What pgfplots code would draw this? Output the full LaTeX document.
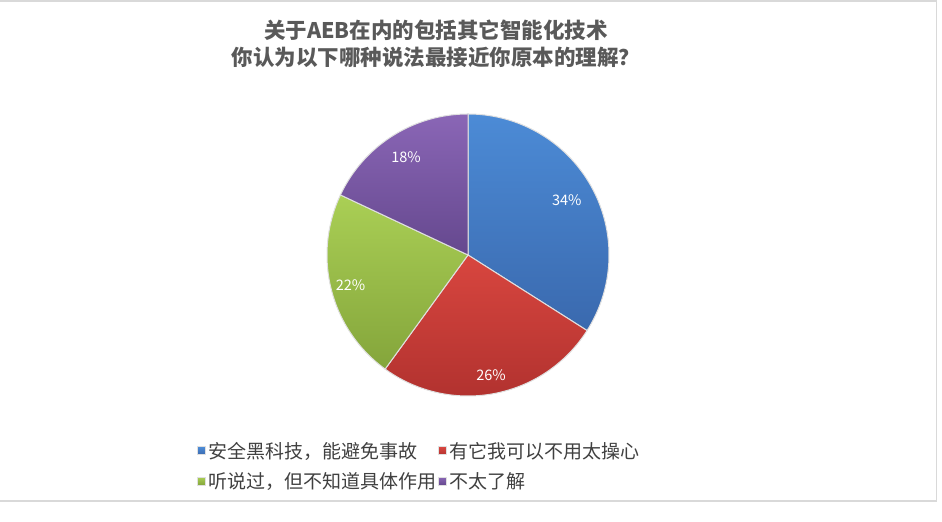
\documentclass[border=0pt]{standalone}
\usepackage{pgfplots}
\usepackage{pgfplotstable}
\pgfplotsset{compat=1.18}
\usepackage{fontspec}
\setmainfont{Noto Sans CJK SC}

\definecolor{blueT}{HTML}{4C8BD6}
\definecolor{blueB}{HTML}{3A69AE}
\definecolor{redT}{HTML}{D8463F}
\definecolor{redB}{HTML}{B2322F}
\definecolor{greenT}{HTML}{AACF55}
\definecolor{greenB}{HTML}{84A53B}
\definecolor{purpT}{HTML}{8A66B6}
\definecolor{purpB}{HTML}{65488E}
\definecolor{titlegray}{HTML}{595959}
\definecolor{legendgray}{HTML}{404040}

% share of answers, clockwise from 12 o'clock
\pgfplotstableread{
label value
A 34
B 26
C 22
D 18
}\piedata

\begin{document}
\begin{tikzpicture}[x=1bp,y=1bp]
\path[use as bounding box] (0,0) rectangle (942,522);
\draw[color=black!15, line width=1.5bp] (0,521.2) -- (936.5,521.2) -- (936.5,21) -- (0,21);

\node[font=\fontsize{21.5bp}{27bp}\selectfont\bfseries, text=titlegray, align=center]
  at (436,478) {关于AEB在内的包括其它智能化技术\\你认为以下哪种说法最接近你原本的理解？};

% slice angles from the table
\pgfplotstablegetelem{0}{value}\of\piedata \let\va\pgfplotsretval
\pgfplotstablegetelem{1}{value}\of\piedata \let\vb\pgfplotsretval
\pgfplotstablegetelem{2}{value}\of\piedata \let\vc\pgfplotsretval
\pgfplotstablegetelem{3}{value}\of\piedata \let\vd\pgfplotsretval
\pgfmathsetmacro{\tA}{90}
\pgfmathsetmacro{\tB}{\tA-3.6*\va}
\pgfmathsetmacro{\tC}{\tB-3.6*\vb}
\pgfmathsetmacro{\tD}{\tC-3.6*\vc}
\pgfmathsetmacro{\tE}{\tD-3.6*\vd}
\pgfmathsetmacro{\mA}{(\tA+\tB)/2}
\pgfmathsetmacro{\mB}{(\tB+\tC)/2}
\pgfmathsetmacro{\mC}{(\tC+\tD)/2}
\pgfmathsetmacro{\mD}{(\tD+\tE)/2}

\begin{axis}[
    at={(468bp,267bp)}, anchor=center,
    x=141bp, y=141bp,
    xmin=-1.05, xmax=1.05, ymin=-1.05, ymax=1.05,
    hide axis, clip=false,
    legend columns=2,
    legend cell align={left},
    legend image code/.code={\fill[#1] (0bp,-4bp) rectangle (8bp,4bp);},
    legend style={draw=none, fill=none,
        at={(-0.425,-0.118)}, anchor=north west,
        font=\fontsize{19bp}{22bp}\selectfont, text=legendgray,
        row sep=8.5bp,
        /tikz/every even column/.append style={column sep=0bp},
        /tikz/every odd column/.append style={column sep=0bp}},
]
\addplot[top color=blueT, bottom color=blueB, draw=black!12, line width=1bp,
    domain=\tB:\tA, samples=90] ({cos(x)},{sin(x)}) -- (axis cs:0,0) -- cycle;
\addlegendentry{安全黑科技，能避免事故}
\addplot[top color=redT, bottom color=redB, draw=black!12, line width=1bp,
    domain=\tC:\tB, samples=90] ({cos(x)},{sin(x)}) -- (axis cs:0,0) -- cycle;
\addlegendentry{有它我可以不用太操心}
\addplot[top color=greenT, bottom color=greenB, draw=black!12, line width=1bp,
    domain=\tD:\tC, samples=90] ({cos(x)},{sin(x)}) -- (axis cs:0,0) -- cycle;
\addlegendentry{听说过，但不知道具体作用}
\addplot[top color=purpT, bottom color=purpB, draw=black!12, line width=1bp,
    domain=\tE:\tD, samples=90] ({cos(x)},{sin(x)}) -- (axis cs:0,0) -- cycle;
\addlegendentry{不太了解}

\node[text=white, font=\fontsize{14.5bp}{16bp}\selectfont] at (axis cs:{0.80*cos(\mA)},{0.80*sin(\mA)}) {\va\%};
\node[text=white, font=\fontsize{14.5bp}{16bp}\selectfont] at (axis cs:{0.87*cos(\mB)},{0.87*sin(\mB)}) {\vb\%};
\node[text=white, font=\fontsize{14.5bp}{16bp}\selectfont] at (axis cs:{0.86*cos(\mC)},{0.86*sin(\mC)}) {\vc\%};
\node[text=white, font=\fontsize{14.5bp}{16bp}\selectfont] at (axis cs:{0.82*cos(\mD)},{0.82*sin(\mD)}) {\vd\%};
\end{axis}
\end{tikzpicture}
\end{document}
